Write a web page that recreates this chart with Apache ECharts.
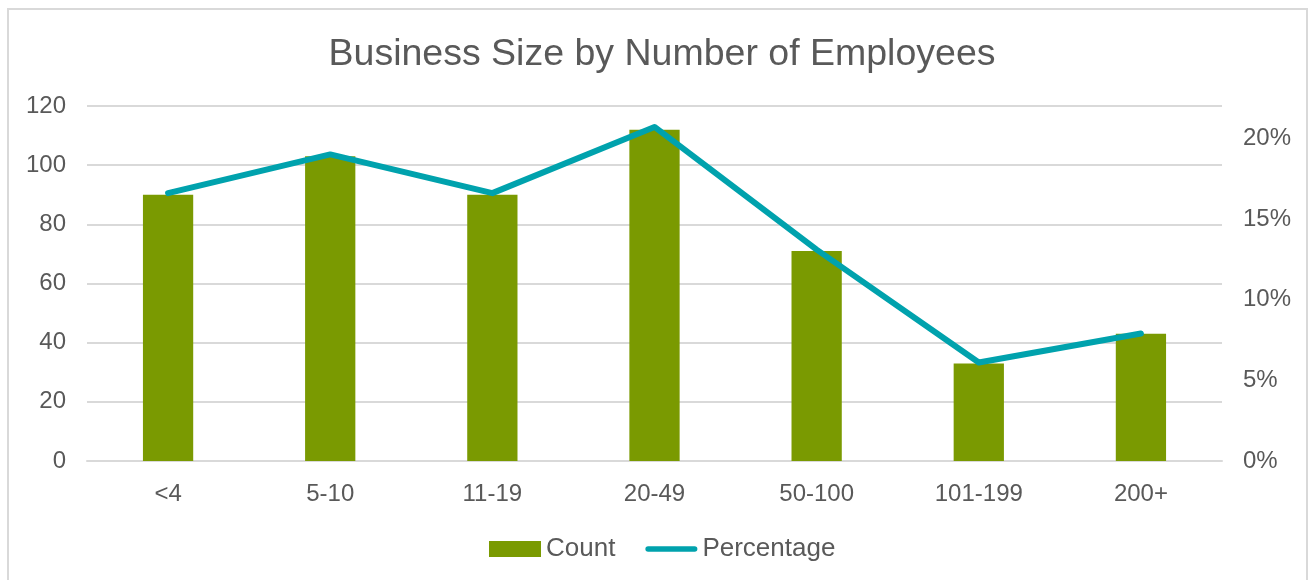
<!DOCTYPE html>
<html>
<head>
<meta charset="utf-8">
<script src="https://cdn.jsdelivr.net/npm/echarts@6/dist/echarts.min.js"></script>
<style>
  html, body { margin: 0; padding: 0; background: #ffffff; }
  #chart { width: 1311px; height: 580px; }
</style>
</head>
<body>
<div id="chart"></div>
<script>
// Employee-size bands and the number of businesses in each
const categories = ['<4', '5-10', '11-19', '20-49', '50-100', '101-199', '200+'];
const counts = [90, 103, 90, 112, 71, 33, 43];
// Share of all businesses in each band
const percentages = [0.166, 0.190, 0.166, 0.207, 0.131, 0.061, 0.079];
const countTicks = { min: 0, max: 120, interval: 20 };
const pctTicks = { min: 0, max: 0.22, interval: 0.05 };

const textColor = '#595959';
const font = 'Liberation Sans, Arial, sans-serif';
const barColor = '#7a9a01';
const lineColor = '#00a2ad';

const chart = echarts.init(document.getElementById('chart'), null, { renderer: 'canvas' });

chart.setOption({
  backgroundColor: '#ffffff',
  animation: false,
  textStyle: { fontFamily: font, color: textColor },
  graphic: [{
    type: 'rect',
    shape: { x: 8, y: 9, width: 1299, height: 600 },
    style: { fill: 'none', stroke: '#d9d9d9', lineWidth: 2 },
    silent: true,
    z: -1
  }],
  title: {
    text: 'Business Size by Number of Employees',
    left: 657,
    textAlign: 'center',
    top: 31,
    textStyle: { fontFamily: font, fontSize: 37.5, fontWeight: 'normal', color: textColor }
  },
  grid: { left: 87, right: 89, top: 106, bottom: 119, containLabel: false },
  legend: {
    left: 484,
    top: 531,
    itemWidth: 52,
    itemHeight: 16,
    itemGap: 30,
    itemTextGap: 5,
    textStyle: { fontFamily: font, fontSize: 26, color: textColor },
    data: [
      { name: 'Count', icon: 'rect' },
      // thick round-capped stroke, same as the series line
      { name: 'Percentage', icon: 'path://M3,0 H54 A3,3 0 0 1 54,6 H3 A3,3 0 0 1 3,0 Z' }
    ]
  },
  xAxis: {
    type: 'category',
    data: categories,
    axisLine: { show: true, lineStyle: { color: '#d9d9d9', width: 2 } },
    axisTick: { show: false },
    axisLabel: { fontFamily: font, fontSize: 24, color: textColor, margin: 21 }
  },
  yAxis: [
    {
      type: 'value',
      min: countTicks.min,
      max: countTicks.max,
      interval: countTicks.interval,
      axisLine: { show: false },
      axisTick: { show: false },
      splitLine: { lineStyle: { color: '#d9d9d9', width: 2 } },
      axisLabel: { fontFamily: font, fontSize: 24, color: textColor, margin: 21 }
    },
    {
      type: 'value',
      min: pctTicks.min,
      max: pctTicks.max,
      interval: pctTicks.interval,
      position: 'right',
      axisLine: { show: false },
      axisTick: { show: false },
      splitLine: { show: false },
      axisLabel: {
        fontFamily: font, fontSize: 24, color: textColor, margin: 21,
        showMaxLabel: false,
        formatter: v => Math.round(v * 100) + '%'
      }
    }
  ],
  series: [
    {
      name: 'Count',
      type: 'bar',
      data: counts,
      yAxisIndex: 0,
      barWidth: '31%',
      itemStyle: { color: barColor }
    },
    {
      name: 'Percentage',
      type: 'line',
      data: percentages,
      yAxisIndex: 1,
      symbol: 'none',
      lineStyle: { color: lineColor, width: 6, cap: 'round', join: 'round' },
      itemStyle: { color: lineColor }
    }
  ]
});
</script>
</body>
</html>
